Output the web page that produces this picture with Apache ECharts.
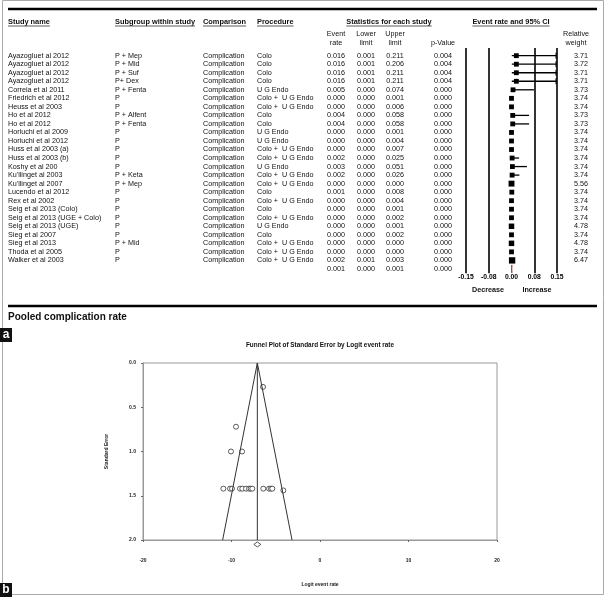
<!DOCTYPE html>
<html>
<head>
<meta charset="utf-8">
<script src="https://cdn.jsdelivr.net/npm/echarts@6/dist/echarts.min.js"></script>
<style>
html, body { margin: 0; padding: 0; background: #fff; }
#chart { width: 605px; height: 597px; }
</style>
</head>
<body>
<div id="chart"></div>
<script>
// ---- panel a: forest plot data ----
const studyNames = ['Ayazogluet al 2012', 'Ayazogluet al 2012', 'Ayazogluet al 2012', 'Ayazogluet al 2012',
    'Correia et al 2011', 'Friedrich et al 2012', 'Heuss et al 2003', 'Ho et al 2012', 'Ho et al 2012',
    'Horiuchi et al 2009', 'Horiuchi et al 2012', 'Huss et al 2003 (a)', 'Huss et al 2003 (b)', 'Koshy et al 200',
    "Ku'llinget al 2003", "Ku'llinget al 2007", 'Lucendo et al 2012', 'Rex et al 2002', 'Seig et al 2013 (Colo)',
    'Seig et al 2013 (UGE + Colo)', 'Seig et al 2013 (UGE)', 'Sieg et al 2007', 'Sieg et al 2013',
    'Thoda et al 2005', 'Walker et al 2003'];
const subgroups = ['P + Mep', 'P + Mid', 'P + Suf', 'P+ Dex', 'P + Fenta', 'P', 'P', 'P + Alfent', 'P + Fenta',
    'P', 'P', 'P', 'P', 'P', 'P + Keta', 'P + Mep', 'P', 'P', 'P', 'P', 'P', 'P', 'P + Mid', 'P', 'P'];
const comparison = 'Complication';
const procedures = ['Colo', 'Colo', 'Colo', 'Colo', 'U G Endo', 'Colo +  U G Endo', 'Colo +  U G Endo', 'Colo', 'Colo',
    'U G Endo', 'U G Endo', 'Colo +  U G Endo', 'Colo +  U G Endo', 'U G Endo', 'Colo +  U G Endo', 'Colo +  U G Endo',
    'Colo', 'Colo +  U G Endo', 'Colo', 'Colo +  U G Endo', 'U G Endo', 'Colo', 'Colo +  U G Endo',
    'Colo +  U G Endo', 'Colo +  U G Endo'];
const eventRates = [0.016, 0.016, 0.016, 0.016, 0.005, 0.000, 0.000, 0.004, 0.004, 0.000, 0.000, 0.000, 0.002,
    0.003, 0.002, 0.000, 0.001, 0.000, 0.000, 0.000, 0.000, 0.000, 0.000, 0.000, 0.002];
const lowerLimits = [0.001, 0.001, 0.001, 0.001, 0.000, 0.000, 0.000, 0.000, 0.000, 0.000, 0.000, 0.000, 0.000,
    0.000, 0.000, 0.000, 0.000, 0.000, 0.000, 0.000, 0.000, 0.000, 0.000, 0.000, 0.001];
const upperLimits = [0.211, 0.206, 0.211, 0.211, 0.074, 0.001, 0.006, 0.058, 0.058, 0.001, 0.004, 0.007, 0.025,
    0.051, 0.026, 0.000, 0.008, 0.004, 0.001, 0.002, 0.001, 0.002, 0.000, 0.000, 0.003];
const pValues = [0.004, 0.004, 0.004, 0.004, 0.000, 0.000, 0.000, 0.000, 0.000, 0.000, 0.000, 0.000, 0.000,
    0.000, 0.000, 0.000, 0.000, 0.000, 0.000, 0.000, 0.000, 0.000, 0.000, 0.000, 0.000];
const weights = ['3.71', '3.72', '3.71', '3.71', '3.73', '3.74', '3.74', '3.73', '3.73', '3.74', '3.74', '3.74',
    '3.74', '3.74', '3.74', '5.56', '3.74', '3.74', '3.74', '3.74', '4.78', '3.74', '4.78', '3.74', '6.47'];
const pooledRate = 0.001, pooledLower = 0.000, pooledUpper = 0.001, pooledP = 0.000;
const forestTickLabels = ['-0.15', '-0.08', '0.00', '0.08', '0.15'];

// ---- panel b: funnel plot data ----
const funnelLogit = [-6.44, -9.49, -10.06, -8.81, -10.92, -10.17, -9.94, -9.04, -8.78, -8.36, -8.02, -7.83,
    -7.65, -6.41, -5.76, -5.54, -5.39, -4.14];
const funnelSE = [0.27, 0.72, 1.00, 1.00, 1.42, 1.42, 1.42, 1.42, 1.42, 1.42, 1.42, 1.42, 1.42, 1.42, 1.42,
    1.42, 1.42, 1.44];
const funnelEdgeX = [-11.0, -7.08, -3.16];
const funnelEdgeY = [2.0, 0.0, 2.0];
const pooledLogit = -7.08;
const pooledMarkSE = 2.05;
const funnelXTicks = ['-20', '-10', '0', '10', '20'];

const FONT = '"Liberation Sans", Arial, sans-serif';
const COL = { study: 8, sub: 115, comp: 203, proc: 257, rate: 336, lower: 366, upper: 395, p: 443, weight: 588 };
const measure = document.createElement('canvas').getContext('2d');
function textWidth(t, size, weight) {
    measure.font = weight + ' ' + size + 'px ' + FONT;
    return measure.measureText(t).width;
}

const chart = echarts.init(document.getElementById('chart'));

// header texts with underline
const headerList = [
    { t: 'Study name', x: 8, align: 'left' },
    { t: 'Subgroup within study', x: 115, align: 'left' },
    { t: 'Comparison', x: 203, align: 'left' },
    { t: 'Procedure', x: 257, align: 'left' },
    { t: 'Statistics for each study', x: 389, align: 'center' },
    { t: 'Event rate and 95% CI', x: 511, align: 'center' }
];
const graphics = [];
const txt = (s, x, y, size, weight, align, color) => ({
    type: 'text', x: x, y: y, silent: true,
    style: { text: s, fill: color || '#111', fontSize: size, fontFamily: FONT, fontWeight: weight || 'normal',
        align: align || 'left', verticalAlign: 'middle' }
});
const line = (x1, y1, x2, y2, w, c) => ({
    type: 'line', silent: true, shape: { x1: x1, y1: y1, x2: x2, y2: y2 },
    style: { stroke: c || '#000', lineWidth: w }
});

// frame
graphics.push({ type: 'rect', silent: true, shape: { x: 2.5, y: 0.5, width: 601, height: 594 },
    style: { fill: 'none', stroke: '#aaa', lineWidth: 1 } });
graphics.push(line(8, 9, 597, 9, 2.5));
graphics.push(line(8, 306, 597, 306, 2.5));
headerList.forEach(h => {
    const w = textWidth(h.t, 7.4, 'bold');
    const x0 = h.align === 'center' ? h.x - w / 2 : h.x;
    graphics.push(txt(h.t, h.x, 22, 7.4, 'bold', h.align));
    graphics.push(line(x0, 26, x0 + w, 26, 0.8, '#333'));
});
// sub headers
[['Event', 'rate', COL.rate], ['Lower', 'limit', COL.lower], ['Upper', 'limit', COL.upper],
 ['', 'p-Value', COL.p], ['Relative', 'weight', 576]].forEach(s => {
    if (s[0]) graphics.push(txt(s[0], s[2], 34.5, 7.2, 'normal', 'center'));
    graphics.push(txt(s[1], s[2], 43, 7.2, 'normal', 'center'));
});
graphics.push(txt('Decrease', 488, 290, 7.2, 'bold', 'center'));
graphics.push(txt('Increase', 537, 290, 7.2, 'bold', 'center'));
graphics.push(txt('Pooled complication rate', 8, 317, 10, 'bold', 'left'));
graphics.push(txt('Funnel Plot of Standard Error by Logit event rate', 320, 345, 6.4, 'bold', 'center'));
// panel letters
[['a', 328], ['b', 583]].forEach(p => {
    graphics.push({ type: 'rect', silent: true, shape: { x: 0, y: p[1], width: 12, height: 14 }, style: { fill: '#111' } });
    graphics.push(txt(p[0], 6, p[1] + 7, 12, 'bold', 'center', '#fff'));
});

const rowData = studyNames.map((_, i) => [0, i]);
rowData.push([0, studyNames.length]);

function renderTable(params, api) {
    const i = api.value(1);
    const y = api.coord([0, i])[1];
    const cell = (s, x, align) => ({ type: 'text', x: x, y: y,
        style: { text: s, fill: '#111', fontSize: 7.2, fontFamily: FONT, align: align, verticalAlign: 'middle' } });
    const cells = [];
    if (i < studyNames.length) {
        cells.push(cell(studyNames[i], COL.study, 'left'));
        cells.push(cell(subgroups[i], COL.sub, 'left'));
        cells.push(cell(comparison, COL.comp, 'left'));
        cells.push(cell(procedures[i], COL.proc, 'left'));
        cells.push(cell(eventRates[i].toFixed(3), COL.rate, 'center'));
        cells.push(cell(lowerLimits[i].toFixed(3), COL.lower, 'center'));
        cells.push(cell(upperLimits[i].toFixed(3), COL.upper, 'center'));
        cells.push(cell(pValues[i].toFixed(3), COL.p, 'center'));
        cells.push(cell(weights[i], COL.weight, 'right'));
    } else {
        cells.push(cell(pooledRate.toFixed(3), COL.rate, 'center'));
        cells.push(cell(pooledLower.toFixed(3), COL.lower, 'center'));
        cells.push(cell(pooledUpper.toFixed(3), COL.upper, 'center'));
        cells.push(cell(pooledP.toFixed(3), COL.p, 'center'));
    }
    return { type: 'group', children: cells };
}

function renderCI(params, api) {
    const lo = api.value(0), hi = api.value(1), i = api.value(2);
    const p1 = api.coord([lo, i]);
    const p2 = api.coord([Math.min(hi, 0.15), i]);
    const children = [{ type: 'line', shape: { x1: p1[0], y1: p1[1], x2: p2[0], y2: p2[1] },
        style: { stroke: '#000', lineWidth: 1.3 } }];
    if (hi > 0.15) {
        children.push({ type: 'line', shape: { x1: p2[0] - 1, y1: p2[1] - 3, x2: p2[0] - 1, y2: p2[1] + 3 },
            style: { stroke: '#000', lineWidth: 1 } });
    }
    return { type: 'group', children: children };
}

function renderPooled(params, api) {
    const r = api.value(0), lo = api.value(1), hi = api.value(2), i = api.value(3);
    const c = api.coord([r, i]), a = api.coord([lo, i]), b = api.coord([hi, i]);
    return { type: 'polygon', shape: { points: [[a[0], c[1]], [c[0], c[1] - 4], [b[0], c[1]], [c[0], c[1] + 4]] },
        style: { fill: '#a8473f', stroke: '#a8473f', lineWidth: 1 } };
}

const option = {
    animation: false,
    backgroundColor: '#fff',
    graphic: graphics,
    grid: [
        { left: 466, top: 48, width: 91, height: 225.2 },
        { left: 143, top: 363, width: 354, height: 177, show: true, borderColor: '#999', borderWidth: 1 }
    ],
    xAxis: [
        { gridIndex: 0, type: 'value', min: -0.15, max: 0.15, interval: 0.075,
            axisLine: { show: false }, axisTick: { show: false },
            splitLine: { show: true, lineStyle: { color: ['#000', '#000', 'rgba(0,0,0,0)', '#000', '#000'], width: 1.6 } },
            axisLabel: { margin: 0, fontSize: 6.8, color: '#000', fontFamily: FONT, fontWeight: 'bold',
                formatter: v => forestTickLabels[Math.round((v + 0.15) / 0.075)] } },
        { gridIndex: 1, type: 'value', min: -20, max: 20, interval: 10,
            axisLine: { onZero: false, lineStyle: { color: '#999', width: 1 } },
            axisTick: { show: true, length: 2, lineStyle: { color: '#666' } },
            splitLine: { show: false },
            axisLabel: { margin: 18, fontSize: 5, color: '#222', fontWeight: 'bold', fontFamily: FONT,
                formatter: v => funnelXTicks[Math.round((v + 20) / 10)] },
            name: 'Logit event rate', nameLocation: 'middle', nameGap: 42,
            nameTextStyle: { fontSize: 5, fontWeight: 'bold', color: '#222', fontFamily: FONT } }
    ],
    yAxis: [
        { gridIndex: 0, type: 'value', min: -0.9, max: 25.5, inverse: true, show: false },
        { gridIndex: 1, type: 'value', min: 0, max: 2, interval: 0.5, inverse: true,
            axisLine: { onZero: false, lineStyle: { color: '#999', width: 1 } },
            axisTick: { show: true, length: 2, lineStyle: { color: '#666' } },
            splitLine: { show: false },
            axisLabel: { margin: 7, fontSize: 5, color: '#222', fontWeight: 'bold', fontFamily: FONT,
                formatter: v => v.toFixed(1) },
            name: 'Standard Error', nameLocation: 'middle', nameGap: 34, nameRotate: 90,
            nameTextStyle: { fontSize: 5, fontWeight: 'bold', color: '#222', fontFamily: FONT } }
    ],
    series: [
        { type: 'custom', xAxisIndex: 0, yAxisIndex: 0, silent: true, renderItem: renderTable, data: rowData },
        { type: 'custom', xAxisIndex: 0, yAxisIndex: 0, silent: true, renderItem: renderCI,
            data: studyNames.map((_, i) => [lowerLimits[i], upperLimits[i], i]) },
        { type: 'scatter', xAxisIndex: 0, yAxisIndex: 0, silent: true, symbol: 'rect',
            symbolSize: v => Math.sqrt(v[2]) * 2.5, itemStyle: { color: '#000', opacity: 1 },
            data: eventRates.map((r, i) => [r, i, Number(weights[i])]) },
        { type: 'custom', xAxisIndex: 0, yAxisIndex: 0, silent: true, renderItem: renderPooled,
            data: [[pooledRate, pooledLower, pooledUpper, studyNames.length]] },
        { type: 'line', xAxisIndex: 1, yAxisIndex: 1, silent: true, symbol: 'none',
            lineStyle: { color: '#333', width: 1 },
            data: funnelEdgeX.map((x, i) => [x, funnelEdgeY[i]]) },
        { type: 'line', xAxisIndex: 1, yAxisIndex: 1, silent: true, symbol: 'none',
            lineStyle: { color: '#333', width: 1 },
            data: [[pooledLogit, 0], [pooledLogit, 2]] },
        { type: 'scatter', xAxisIndex: 1, yAxisIndex: 1, silent: true, symbol: 'circle', symbolSize: 5,
            itemStyle: { color: '#fff', borderColor: '#333', borderWidth: 0.8, opacity: 1 },
            data: funnelLogit.map((x, i) => [x, funnelSE[i]]) },
        { type: 'scatter', xAxisIndex: 1, yAxisIndex: 1, silent: true, clip: false, symbol: 'diamond',
            symbolSize: [7, 5], itemStyle: { color: '#fff', borderColor: '#333', borderWidth: 0.8, opacity: 1 },
            data: [[pooledLogit, pooledMarkSE]] }
    ]
};
chart.setOption(option);
</script>
</body>
</html>
